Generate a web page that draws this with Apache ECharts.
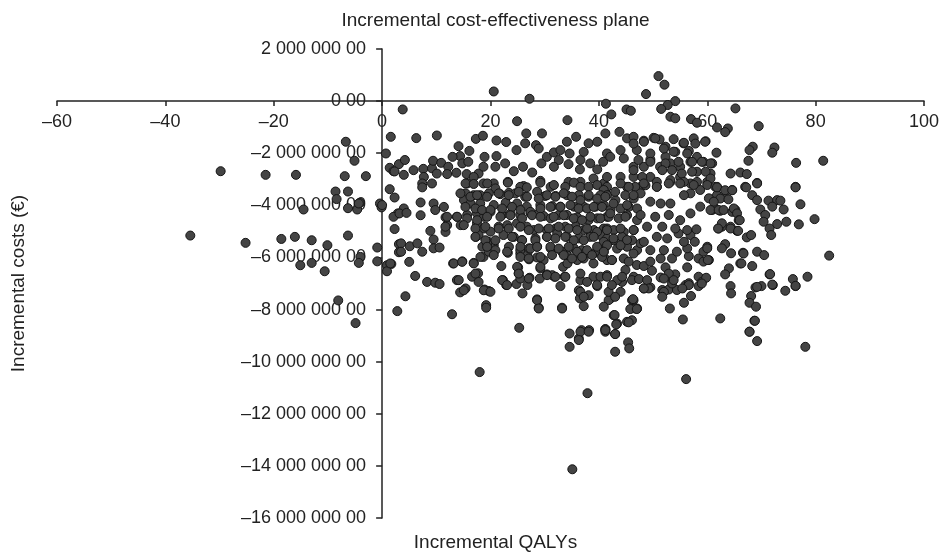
<!DOCTYPE html>
<html>
<head>
<meta charset="utf-8">
<script src="https://cdn.jsdelivr.net/npm/echarts@6/dist/echarts.min.js"></script>
<style>
    html, body { margin: 0; padding: 0; background: #fff; }
    #chart { width: 945px; height: 555px; }
</style>
</head>
<body>
<div id="chart"></div>
<script>
// [incremental QALYs, incremental costs in millions of €]
const leftPoints = [
    [1.6, -1.37], [-6.7, -1.56], [0.7, -2.01], [-5.1, -2.29], [3.1, -2.42], [1.4, -2.56], [2.1, -2.69],
    [-29.8, -2.69], [-21.5, -2.83], [-15.9, -2.83], [-6.9, -2.88], [-3.0, -2.88], [1.4, -3.38], [-8.6, -3.47],
    [-6.3, -3.47], [2.3, -3.70], [-8.4, -3.76], [-4.1, -3.90], [-0.4, -3.93], [-0.1, -4.08], [-14.5, -4.16],
    [-6.3, -4.11], [-4.6, -4.16], [-4.3, -3.93], [2.9, -4.31], [2.1, -4.44], [2.3, -4.91], [-35.4, -5.16],
    [-6.3, -5.16], [-16.1, -5.21], [-18.6, -5.29], [-13.0, -5.34], [-25.2, -5.44], [-10.1, -5.53], [3.1, -5.49],
    [-0.9, -5.62], [3.1, -5.80], [-4.0, -5.98], [-4.3, -6.21], [-0.9, -6.15], [1.7, -6.25], [0.9, -6.30],
    [0.9, -6.53], [-15.1, -6.30], [-13.0, -6.21], [-10.6, -6.53], [-8.1, -7.65], [-4.9, -8.52], [2.8, -8.06]
]

const upperPoints = [
    [20.6, 0.37], [27.2, 0.09], [3.8, -0.32], [41.3, -0.10], [24.9, -0.77], [34.2, -0.73], [6.3, -1.42],
    [10.1, -1.32], [17.3, -1.45], [18.6, -1.33], [21.1, -1.51], [22.9, -1.57], [26.6, -1.24], [29.5, -1.24],
    [26.4, -1.62], [24.8, -1.88], [28.4, -1.69], [28.9, -1.82], [35.8, -1.37], [34.1, -1.56], [14.1, -1.73],
    [38.1, -1.62], [39.7, -1.56], [16.1, -1.91], [14.4, -2.11], [13.0, -2.14], [18.9, -2.14], [21.1, -2.11],
    [4.2, -2.26], [2.3, -2.70], [4.0, -2.83], [5.8, -2.65], [7.6, -2.60], [9.2, -2.58], [9.4, -2.29],
    [10.9, -2.37], [12.2, -2.52], [14.8, -2.39], [15.9, -2.33], [7.7, -2.91], [10.1, -2.78], [12.0, -2.80],
    [13.7, -2.75], [15.6, -2.80], [17.8, -2.78], [18.7, -2.52], [20.9, -2.52], [22.7, -2.39], [24.3, -2.69],
    [26.0, -2.52], [27.7, -2.74], [29.4, -2.39], [30.4, -2.14], [31.7, -1.97], [32.9, -1.88], [32.6, -2.26],
    [31.7, -2.52], [34.6, -2.01], [34.4, -2.42], [36.6, -2.26], [37.2, -1.95], [38.4, -2.39], [36.5, -2.62],
    [39.7, -2.62], [41.5, -2.01], [40.8, -2.33], [20.6, -3.16], [18.7, -3.16], [23.2, -3.10], [7.4, -3.16],
    [9.2, -3.16], [26.1, -3.26], [29.2, -3.06], [31.1, -3.29], [34.4, -3.10], [36.6, -3.10], [39.0, -2.97],
    [40.9, -3.16], [15.7, -3.16], [16.9, -2.91]
]

const upperRightPoints = [
    [51.0, 0.96], [52.1, 0.63], [48.7, 0.27], [54.1, 0.0], [52.7, -0.15], [51.5, -0.30], [45.1, -0.32],
    [45.9, -0.37], [65.2, -0.28], [42.3, -0.51], [53.2, -0.60], [54.1, -0.66], [57.0, -0.69], [58.1, -0.83],
    [61.8, -1.01], [63.8, -1.05], [63.3, -1.19], [69.5, -0.96], [43.8, -1.18], [41.2, -1.24], [50.1, -1.41],
    [51.2, -1.47], [53.8, -1.46], [57.5, -1.43], [59.7, -1.54], [55.6, -1.62], [45.2, -1.43], [46.4, -1.37],
    [48.3, -1.52], [52.3, -1.75], [54.1, -1.95], [56.6, -1.91], [61.7, -1.98], [68.4, -1.75], [67.8, -1.88],
    [72.4, -1.78], [72.0, -1.98], [67.6, -2.29], [76.4, -2.37], [81.4, -2.29], [64.3, -2.78], [66.1, -2.74],
    [67.3, -2.80], [69.2, -3.14], [76.3, -3.29], [67.0, -3.29], [44.0, -1.88], [47.0, -1.88], [42.1, -2.14],
    [44.6, -2.20], [49.5, -2.24], [52.3, -2.14], [55.0, -2.52], [56.9, -2.33], [59.3, -2.33], [60.6, -2.78],
    [60.9, -2.39], [58.1, -2.71], [46.4, -2.52], [48.3, -2.52], [51.3, -2.52], [53.2, -2.39], [41.5, -2.91],
    [44.0, -2.91], [46.4, -2.91], [49.5, -2.91], [53.2, -3.10], [55.0, -2.91], [56.9, -3.16], [60.0, -3.10],
    [61.8, -3.29], [41.5, -3.29], [45.2, -3.29], [47.7, -3.29], [50.7, -3.29], [46.4, -1.63], [48.3, -1.56],
    [50.4, -1.43], [55.7, -1.60], [57.8, -1.63], [59.6, -1.56], [49.5, -2.01], [52.0, -1.82], [53.8, -1.94],
    [56.3, -2.01], [58.1, -2.14], [60.6, -2.39], [59.0, -2.33], [57.2, -2.33], [54.7, -2.33], [52.3, -2.39],
    [49.5, -2.33], [47.3, -2.26], [46.4, -2.65], [48.0, -2.91], [51.7, -2.65], [53.5, -2.65], [55.3, -2.78],
    [57.2, -2.71], [59.7, -2.71], [60.6, -2.97], [58.1, -3.10], [55.7, -3.10], [53.2, -3.03], [50.7, -3.10],
    [48.6, -3.23], [46.7, -3.29]
]

const coreLeftPoints = [
    [7.4, -3.31], [0.0, -3.99], [4.0, -4.12], [3.2, -4.31], [4.5, -4.29], [7.1, -3.89], [7.1, -4.38],
    [9.5, -3.93], [9.8, -4.18], [11.4, -4.06], [11.7, -4.46], [12.0, -4.76], [11.7, -5.02], [8.9, -4.98],
    [9.5, -5.31], [9.5, -5.65], [10.6, -5.62], [3.5, -5.46], [3.5, -5.78], [5.1, -5.57], [6.5, -5.46],
    [7.4, -5.78], [1.5, -6.23], [5.0, -6.17], [6.1, -6.71], [8.3, -6.94], [9.8, -6.97], [10.6, -7.02],
    [4.3, -7.49], [12.9, -8.18], [13.1, -6.23], [14.8, -6.15], [13.8, -6.87], [14.4, -7.34], [15.4, -7.19],
    [16.9, -6.21], [16.6, -6.74], [17.7, -6.61], [17.8, -6.94], [18.9, -7.23], [19.7, -7.29], [19.2, -7.83],
    [19.2, -7.93], [18.7, -5.98], [19.7, -5.78], [18.5, -5.59], [19.6, -5.40], [20.6, -5.53], [17.3, -5.21],
    [23.2, -5.82], [22.0, -6.33], [22.3, -6.87], [22.9, -7.06], [24.8, -7.02], [25.1, -6.38], [25.2, -6.61],
    [25.5, -6.81], [25.9, -7.38], [26.8, -7.06], [27.2, -6.78], [25.3, -8.70], [28.6, -7.61], [28.9, -7.93],
    [29.1, -6.81], [30.4, -6.65], [31.8, -6.74], [33.2, -7.93], [33.7, -6.74], [32.9, -7.10], [34.6, -8.92],
    [36.3, -9.11], [36.8, -8.79], [38.2, -8.79], [41.2, -8.76], [36.3, -7.26], [36.5, -7.57], [37.2, -7.87],
    [38.1, -7.45], [36.6, -6.87], [39.0, -6.74], [40.3, -6.74], [39.7, -7.10], [28.6, -6.00], [29.8, -6.10],
    [29.2, -6.42], [31.4, -6.68], [33.4, -6.36], [34.2, -6.23], [36.0, -6.10], [37.2, -6.04], [39.0, -6.23],
    [41.5, -6.10], [41.2, -5.59], [27.1, -6.07], [25.5, -5.85], [26.8, -5.85], [34.1, -5.91]
]

const coreBandPoints = [
    [15.4, -3.16], [16.9, -3.18], [19.4, -3.16], [20.9, -3.35], [23.2, -3.13], [25.5, -3.29], [26.7, -3.31],
    [29.2, -3.13], [31.7, -3.22], [33.8, -3.29], [35.4, -3.13], [36.6, -3.29], [38.1, -3.29], [39.7, -3.22],
    [40.9, -3.41], [15.4, -3.54], [16.9, -3.61], [18.1, -3.61], [19.7, -3.54], [21.8, -3.57], [23.4, -3.52],
    [24.6, -3.54], [26.4, -3.67], [28.6, -3.48], [30.1, -3.64], [32.0, -3.64], [34.1, -3.61], [36.3, -3.61],
    [38.1, -3.67], [40.3, -3.61], [15.1, -3.80], [16.3, -3.93], [18.1, -3.93], [20.6, -3.99], [22.8, -3.90],
    [24.9, -3.93], [26.7, -4.05], [29.2, -3.99], [31.4, -4.03], [32.9, -4.05], [35.4, -4.05], [37.2, -4.05],
    [39.4, -4.05], [40.9, -3.99], [13.8, -4.44], [15.7, -4.37], [17.5, -4.31], [18.8, -4.44], [20.0, -4.25],
    [22.1, -4.37], [23.7, -4.31], [25.5, -4.37], [27.4, -4.31], [28.9, -4.31], [29.8, -4.41], [31.1, -4.50],
    [32.6, -4.37], [34.1, -4.37], [36.0, -4.46], [38.1, -4.57], [39.7, -4.50], [41.5, -4.44], [14.5, -4.76],
    [17.5, -4.69], [18.8, -4.89], [21.5, -4.82], [23.1, -4.76], [24.9, -4.69], [26.7, -4.82], [28.0, -4.95],
    [30.4, -4.95], [32.0, -4.89], [33.8, -4.82], [35.7, -4.82], [37.2, -4.95], [39.1, -4.95], [40.9, -4.89],
    [17.8, -5.14], [20.0, -5.01], [22.4, -5.14], [24.3, -5.21], [25.8, -5.33], [28.3, -5.27], [30.4, -5.21],
    [32.3, -5.08], [34.1, -5.21], [36.3, -5.27], [38.4, -5.21], [40.3, -5.14], [41.5, -5.27], [19.4, -5.46],
    [20.9, -5.72], [23.4, -5.59], [25.5, -5.72], [27.1, -5.65], [28.6, -5.59], [31.1, -5.65], [33.2, -5.78],
    [35.4, -5.65], [36.9, -5.72], [39.1, -5.84], [40.9, -5.78]
]

const coreMidPoints = [
    [14.45, -3.54], [16.30, -3.67], [17.53, -3.61], [19.37, -3.67], [21.52, -3.54], [23.37, -3.61], [25.21, -3.48],
    [26.75, -3.67], [28.90, -3.74], [30.44, -3.61], [31.98, -3.67], [33.52, -3.54], [35.05, -3.67], [36.59, -3.80],
    [38.13, -3.61], [39.67, -3.74], [41.51, -3.61], [43.05, -3.80], [44.89, -3.61], [46.43, -3.74],
    [15.37, -4.06], [17.22, -4.12], [18.45, -4.18], [19.99, -4.18], [22.14, -4.12], [23.98, -4.06], [25.52, -4.18],
    [27.37, -4.25], [29.21, -4.12], [31.06, -4.06], [32.90, -4.06], [34.75, -3.99], [36.28, -4.12], [37.82, -4.12],
    [39.05, -4.06], [40.59, -4.06], [42.13, -4.18], [43.97, -4.12], [45.51, -4.06], [47.05, -4.12],
    [11.99, -4.44], [13.84, -4.44], [15.68, -4.50], [17.53, -4.57], [19.37, -4.44], [21.83, -4.44], [23.68, -4.38],
    [25.83, -4.50], [27.67, -4.38], [29.21, -4.44], [31.67, -4.44], [33.52, -4.38], [35.36, -4.50], [36.90, -4.57],
    [38.44, -4.44], [40.28, -4.50], [41.82, -4.44], [43.66, -4.50], [45.20, -4.38], [47.05, -4.57],
    [11.68, -4.82], [15.07, -4.76], [17.22, -4.89], [19.06, -4.82], [21.52, -4.89], [23.37, -4.89], [25.52, -4.82],
    [27.06, -4.95], [28.90, -4.89], [30.75, -4.89], [32.59, -4.82], [34.44, -4.89], [35.98, -4.95], [37.82, -4.89],
    [39.67, -5.02], [41.51, -4.89], [42.74, -4.95], [44.59, -5.02], [46.43, -4.95],
    [17.22, -5.21], [19.06, -5.34], [20.91, -5.34], [23.98, -5.21], [25.83, -5.34], [28.29, -5.34], [30.44, -5.21],
    [31.98, -5.27], [33.82, -5.21], [35.36, -5.34], [37.21, -5.34], [39.05, -5.21], [40.90, -5.40], [42.74, -5.34],
    [44.28, -5.21], [46.12, -5.34],
    [19.37, -5.59], [23.06, -5.78], [25.52, -5.59], [27.37, -5.66], [28.60, -5.59], [31.06, -5.59], [32.59, -5.66],
    [34.44, -5.59], [35.98, -5.78], [37.82, -5.72], [39.67, -5.59], [41.51, -5.53], [43.36, -5.66], [45.20, -5.59],
    [47.05, -5.72],
    [18.14, -5.98], [20.60, -5.91], [25.52, -5.98], [27.06, -6.04], [29.21, -5.98], [31.36, -5.91], [33.52, -5.91],
    [35.05, -6.04], [36.90, -5.98], [38.74, -5.91], [40.59, -5.98], [42.43, -6.10], [44.59, -6.04],
    [13.22, -6.23], [14.76, -6.17], [16.91, -6.23], [17.22, -6.62], [14.14, -6.87], [15.07, -7.26], [18.76, -7.26],
    [19.99, -7.32], [22.14, -6.87], [23.06, -7.06], [24.91, -6.36], [25.21, -6.62], [27.06, -6.81], [29.21, -6.36],
    [30.44, -6.68], [31.98, -6.74], [33.82, -6.74], [28.60, -7.64], [28.90, -7.96], [33.21, -7.96], [36.59, -6.62],
    [37.82, -6.94], [36.59, -7.32], [37.21, -7.51], [39.67, -7.06], [41.51, -6.68], [42.13, -7.58], [44.28, -6.94],
    [46.43, -6.74], [46.12, -7.64], [42.74, -8.22], [43.36, -8.54], [45.20, -8.47], [47.05, -7.96]
]

const coreRightPoints = [
    [41.8, -7.64], [44.0, -7.32], [41.8, -7.32], [43.0, -7.51], [48.3, -7.19], [49.5, -7.15], [51.7, -7.25],
    [52.9, -7.23], [54.4, -7.25], [51.4, -6.77], [53.2, -6.78], [53.5, -7.00], [54.1, -6.65], [46.1, -6.87],
    [47.4, -6.83], [48.9, -6.87], [49.8, -6.51], [41.5, -6.74], [43.4, -6.87], [44.9, -6.48], [47.0, -6.29],
    [45.5, -6.16], [48.3, -6.33], [49.5, -6.16], [52.3, -6.38], [53.5, -6.04], [56.3, -6.38], [56.6, -5.95],
    [58.4, -6.04], [51.4, -6.04], [42.4, -6.10], [40.9, -5.78], [46.4, -5.85], [44.0, -5.53], [47.7, -5.46],
    [49.5, -5.72], [52.0, -5.72], [54.4, -5.78], [56.3, -5.65], [55.7, -5.40], [56.9, -5.14], [54.7, -5.08],
    [52.6, -5.27], [50.7, -5.21], [48.3, -5.40], [45.2, -5.33], [42.7, -5.27], [41.5, -4.95], [44.0, -4.89],
    [46.4, -4.95], [48.9, -4.82], [51.7, -4.82], [54.1, -4.89], [56.3, -4.95], [55.0, -4.57], [52.9, -4.37],
    [50.4, -4.44], [47.7, -4.37], [44.9, -4.44], [42.1, -4.31], [56.9, -4.31], [58.7, -4.05], [60.9, -4.18],
    [61.5, -4.12], [62.4, -4.21], [64.6, -4.25], [65.2, -4.18], [64.6, -3.41], [63.3, -3.67], [61.8, -3.61],
    [60.3, -3.73], [58.7, -3.41], [56.9, -3.54], [55.0, -3.16], [55.7, -3.61], [52.9, -3.16], [53.2, -3.93],
    [51.4, -3.93], [49.5, -3.86], [47.7, -3.54], [45.5, -3.29], [44.0, -3.16], [43.0, -3.48], [41.2, -3.67],
    [45.2, -3.99], [42.7, -3.93], [46.4, -3.61], [50.7, -3.29], [48.3, -3.16], [57.5, -3.22], [60.0, -3.22],
    [61.5, -3.29], [40.9, -7.89], [42.4, -7.06], [44.3, -6.74], [61.8, -3.31], [63.3, -3.42], [64.6, -3.42],
    [62.4, -3.74], [63.9, -3.77], [61.2, -3.86], [60.6, -4.18], [62.1, -4.18], [63.0, -4.18], [64.9, -4.12],
    [65.5, -4.31], [65.8, -4.57], [64.3, -4.82], [65.5, -4.98], [62.7, -4.82], [62.1, -4.89], [60.0, -5.59],
    [59.3, -5.78], [60.3, -6.10], [58.4, -6.74], [59.0, -6.94], [56.0, -7.06], [56.6, -6.99], [52.0, -7.32],
    [51.7, -7.51], [49.2, -7.19], [48.3, -7.19], [52.9, -6.62], [52.0, -6.81], [53.8, -6.87], [46.4, -7.64],
    [46.7, -7.96], [46.1, -8.41]
]

const rightPoints = [
    [67.2, -3.31], [69.2, -3.16], [76.3, -3.31], [68.3, -3.61], [69.2, -3.80], [71.3, -3.82], [72.9, -3.80],
    [73.5, -3.82], [77.2, -3.96], [72.0, -4.05], [74.1, -4.16], [69.8, -4.16], [70.7, -4.37], [70.4, -4.63],
    [72.9, -4.72], [74.6, -4.63], [76.9, -4.73], [79.8, -4.53], [71.5, -4.89], [71.8, -5.14], [66.0, -4.57],
    [62.7, -4.69], [62.0, -4.89], [64.3, -4.89], [65.7, -4.98], [67.3, -5.23], [68.1, -5.14], [63.3, -5.49],
    [62.7, -5.65], [64.4, -5.84], [66.6, -5.82], [69.2, -5.78], [70.5, -5.91], [82.5, -5.93], [68.3, -6.33],
    [66.1, -6.23], [64.0, -6.42], [63.3, -6.65], [71.5, -6.65], [75.8, -6.83], [78.5, -6.74], [76.3, -7.10],
    [74.4, -7.28], [72.1, -7.06], [70.0, -7.10], [68.9, -7.15], [64.3, -7.10], [64.4, -7.38], [68.1, -7.48],
    [67.8, -7.74], [69.0, -7.89], [68.7, -8.43], [67.8, -8.85], [62.4, -8.34], [55.5, -8.38], [53.1, -7.96],
    [55.7, -7.74], [57.0, -7.48], [56.6, -7.06], [55.4, -7.19], [58.4, -7.10], [59.8, -6.78], [59.0, -7.00],
    [58.0, -4.92], [60.0, -5.65], [59.3, -6.16], [60.1, -6.10], [57.7, -5.40], [46.3, -7.60], [45.8, -7.98],
    [47.0, -7.98], [42.9, -8.21], [43.2, -8.57], [45.5, -8.49], [41.2, -8.75], [43.0, -8.94], [66.7, -5.85],
    [66.3, -6.23], [71.6, -6.64], [72.0, -7.04], [76.3, -7.09], [69.2, -7.13], [68.8, -8.43]
]

const lowerTailPoints = [
    [36.6, -8.85], [38.1, -8.85], [41.2, -8.85], [36.3, -9.17], [34.6, -9.43], [18.0, -10.40], [37.9, -11.21],
    [35.1, -14.13], [41.2, -8.79], [43.0, -8.94], [45.4, -9.26], [45.6, -9.49], [43.0, -9.62], [56.1, -10.67],
    [67.8, -8.85], [69.2, -9.21], [78.1, -9.43]
]

const xTicks = { min: -60, max: 100, interval: 20 }
const yTicks = { min: -16000000, max: 2000000, interval: 2000000 }

const allPoints = [
    ...leftPoints, ...upperPoints, ...upperRightPoints, ...coreLeftPoints, ...coreBandPoints,
    ...coreMidPoints, ...coreRightPoints, ...rightPoints, ...lowerTailPoints
].map(p => [p[0], p[1] * 1000000])

const fontFamily = '"Liberation Sans", Arial, Helvetica, sans-serif'
const textColor = '#222'
const fontSize = 18
const nameSize = 19

// plot box in pixels; the axes cross at (0, 0)
const gridLeft = 57
const gridTop = 49
const gridWidth = 867
const gridHeight = 469
const zeroX = gridLeft + gridWidth * (0 - xTicks.min) / (xTicks.max - xTicks.min)
const zeroY = gridTop + gridHeight * (yTicks.max - 0) / (yTicks.max - yTicks.min)

const costLabel = v => {
    if (v === 0) return '0 00'
    const s = Math.abs(v).toString().replace(/\B(?=(\d{3})+(?!\d))/g, ' ')
    return (v < 0 ? '\u2013' : '') + s + ' 00'
}

const chart = echarts.init(document.getElementById('chart'), null, { renderer: 'canvas' })

chart.setOption({
    animation: false,
    backgroundColor: '#fff',
    textStyle: { fontFamily },
    title: [
        {
            text: 'Incremental cost-effectiveness plane',
            left: gridLeft + gridWidth / 2,
            top: 6,
            textAlign: 'center',
            textStyle: { fontSize: nameSize, fontWeight: 'normal', color: textColor, fontFamily }
        },
        {
            text: 'Incremental QALYs',
            left: gridLeft + gridWidth / 2,
            top: 528,
            textAlign: 'center',
            textStyle: { fontSize: nameSize, fontWeight: 'normal', color: textColor, fontFamily }
        }
    ],
    grid: {
        left: gridLeft,
        top: gridTop,
        width: gridWidth,
        height: gridHeight,
        containLabel: false,
        outerBoundsMode: 'none'
    },
    xAxis: {
        type: 'value',
        position: 'bottom',
        offset: -(gridTop + gridHeight - zeroY),
        min: xTicks.min,
        max: xTicks.max,
        interval: xTicks.interval,
        axisLine: { onZero: false, lineStyle: { color: '#222', width: 1.5 } },
        axisTick: { show: true, length: 5, lineStyle: { color: '#222', width: 1.5 } },
        axisLabel: {
            fontSize,
            color: textColor,
            margin: 12,
            formatter: v => (v < 0 ? '\u2013' + Math.abs(v) : String(v))
        },
        splitLine: { show: false }
    },
    yAxis: {
        type: 'value',
        position: 'left',
        offset: -(zeroX - gridLeft),
        min: yTicks.min,
        max: yTicks.max,
        interval: yTicks.interval,
        name: 'Incremental costs (€)',
        nameLocation: 'middle',
        nameGap: 354,
        nameRotate: 90,
        nameTextStyle: { fontSize: nameSize, color: textColor, fontFamily },
        axisLine: { onZero: false, lineStyle: { color: '#222', width: 1.5 } },
        axisTick: { show: true, length: 6, lineStyle: { color: '#222', width: 1.5 } },
        axisLabel: {
            fontSize,
            color: textColor,
            margin: 16,
            formatter: costLabel
        },
        splitLine: { show: false }
    },
    series: [
        {
            type: 'scatter',
            data: allPoints,
            symbol: 'circle',
            symbolSize: 9,
            itemStyle: {
                color: '#444444',
                borderColor: '#151515',
                borderWidth: 1,
                opacity: 1
            }
        }
    ]
})
</script>
</body>
</html>
